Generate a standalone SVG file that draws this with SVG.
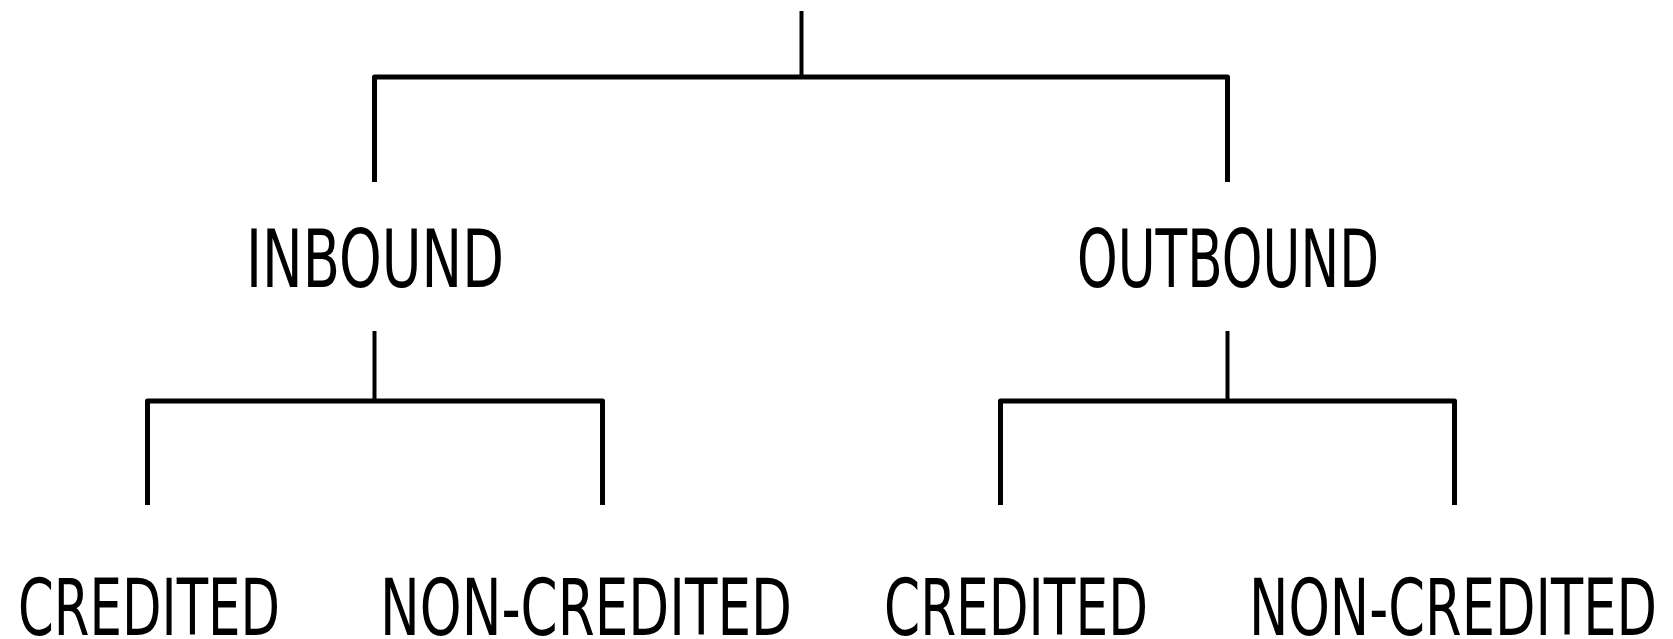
<svg xmlns="http://www.w3.org/2000/svg" width="1673" height="639" viewBox="0 0 1673 639">
<style>
.c{fill:none;stroke:#000;stroke-width:4;stroke-linecap:butt;stroke-linejoin:round}
.h{stroke-width:5}
.t{font-family:"DejaVu Sans","Liberation Sans",sans-serif;fill:#000}
.l1{font-size:80px}
.l2{font-size:78px}
</style>
<rect width="1673" height="639" fill="#fff"/>
<g id="connectors">
<line class="c" x1="801.5" y1="11" x2="801.5" y2="77"/>
<polyline class="c h" points="374.5,182 374.5,77 1227.5,77 1227.5,182"/>
<line class="c" x1="374.5" y1="331" x2="374.5" y2="401"/>
<polyline class="c h" points="147.5,505 147.5,401 602.5,401 602.5,505"/>
<line class="c" x1="1227.5" y1="331" x2="1227.5" y2="401"/>
<polyline class="c h" points="1000.5,505 1000.5,401 1454.5,401 1454.5,505"/>
</g>
<g id="inbound"><text class="t l1" x="246" y="287" textLength="258" lengthAdjust="spacingAndGlyphs">INBOUND</text></g>
<g id="outbound"><text class="t l1" x="1077" y="287" textLength="302" lengthAdjust="spacingAndGlyphs">OUTBOUND</text></g>
<g id="in-credited"><text class="t l2" x="18" y="635" textLength="262" lengthAdjust="spacingAndGlyphs">CREDITED</text></g>
<g id="in-noncredited"><text class="t l2" x="380" y="635" textLength="412" lengthAdjust="spacingAndGlyphs">NON-CREDITED</text></g>
<g id="out-credited"><text class="t l2" x="884" y="635" textLength="264" lengthAdjust="spacingAndGlyphs">CREDITED</text></g>
<g id="out-noncredited"><text class="t l2" x="1249" y="635" textLength="408" lengthAdjust="spacingAndGlyphs">NON-CREDITED</text></g>
</svg>
